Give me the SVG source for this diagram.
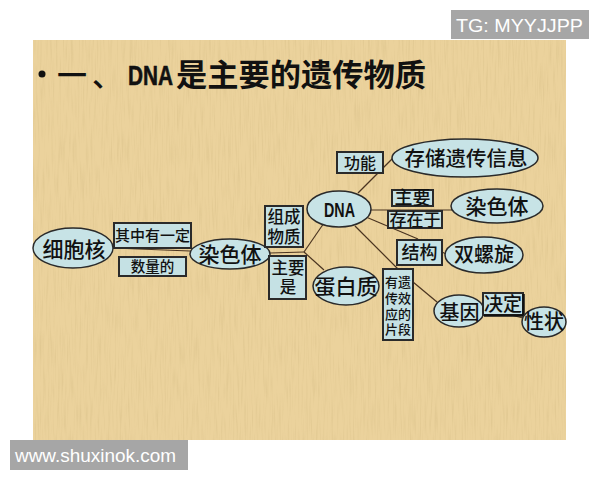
<svg xmlns="http://www.w3.org/2000/svg" width="600" height="480" viewBox="0 0 600 480">
<defs>
<style>
.cjk{font-family:"Noto Sans CJK SC","Noto Sans",sans-serif;fill:#111;text-anchor:middle;font-weight:500}
.ell{fill:#C7E3E6;stroke:#2a2a2a;stroke-width:1.5}
.box{fill:#C5E1E4;stroke:#2a2a2a;stroke-width:2}
.con{stroke:#4a3420;stroke-width:1.2;fill:none}
.wm{fill:#A6A6A6}
.wmt{font-family:"Liberation Sans",Arial,sans-serif;fill:#fff;font-size:18px}
</style>
<filter id="tex" x="0" y="0" width="1" height="1">
<feTurbulence type="fractalNoise" baseFrequency="0.6 0.03" numOctaves="2" seed="3" result="n"/>
<feColorMatrix in="n" type="matrix" values="0 0 0 0 0.6  0 0 0 0 0.45  0 0 0 0 0.2  0 0 0 -1.4 0.75"/>
<feComposite in2="SourceGraphic" operator="in"/>
</filter>
</defs>
<rect width="600" height="480" fill="#fff"/>
<rect x="33" y="40" width="533" height="400" fill="#EBD29C"/>
<rect x="33" y="40" width="533" height="400" fill="#EBD29C" filter="url(#tex)" opacity="0.5"/>

<g id="title">
<circle cx="42" cy="74" r="3.5" fill="#111"/>
<text x="72" y="86" class="cjk" font-size="30" font-weight="bold">一</text>
<text x="107" y="86" class="cjk" font-size="30" font-weight="bold">、</text>
<text x="128" y="85" font-family="Liberation Sans,Arial,sans-serif" font-weight="bold" font-size="28" textLength="45" lengthAdjust="spacingAndGlyphs" fill="#111" stroke="#111" stroke-width="0.6">DNA</text>
<text x="176" y="86" class="cjk" font-size="31" font-weight="bold" style="text-anchor:start;font-weight:bold" textLength="250" lengthAdjust="spacingAndGlyphs">是主要的遗传物质</text>
</g>

<g id="connectors">
<line class="con" x1="113" y1="248" x2="190" y2="251"/>
<line class="con" x1="270" y1="253" x2="304" y2="252"/>
<line class="con" x1="304" y1="252" x2="324" y2="223"/>
<line class="con" x1="304" y1="252" x2="324" y2="270"/>
<line class="con" x1="358" y1="193" x2="393" y2="158"/>
<line class="con" x1="371" y1="210" x2="452" y2="210"/>
<line class="con" x1="366" y1="217" x2="418" y2="239"/>
<line class="con" x1="355" y1="226" x2="398" y2="269"/>
<line class="con" x1="413" y1="282" x2="437" y2="302"/>
<line class="con" x1="442" y1="252" x2="446" y2="254"/>
<line class="con" x1="483" y1="308" x2="523" y2="318"/>
</g>

<g id="n-xibaohe">
<ellipse class="ell" cx="73" cy="248" rx="40" ry="20"/>
<text x="74" y="257" class="cjk" font-size="21">细胞核</text>
</g>
<g id="l-qizhong">
<rect class="box" x="114" y="223" width="77" height="25"/>
<text x="152.5" y="241" class="cjk" font-size="15">其中有一定</text>
</g>
<g id="l-shuliang">
<rect class="box" x="119" y="257" width="67" height="19"/>
<text x="152.5" y="272" class="cjk" font-size="14.5">数量的</text>
</g>
<g id="n-ransheti1">
<ellipse class="ell" cx="230" cy="254" rx="40" ry="15"/>
<text x="230" y="262" class="cjk" font-size="21">染色体</text>
</g>
<g id="l-zucheng">
<rect class="box" x="265" y="206" width="38" height="41"/>
<text x="284" y="223" class="cjk" font-size="16.5">组成</text>
<text x="284" y="243" class="cjk" font-size="16.5">物质</text>
</g>
<g id="l-zhuyaoshi">
<rect class="box" x="269" y="256" width="37" height="43"/>
<text x="288" y="274" class="cjk" font-size="16.5">主要</text>
<text x="288" y="293" class="cjk" font-size="16.5">是</text>
</g>
<g id="n-dna">
<ellipse class="ell" cx="339" cy="209" rx="32" ry="18"/>
<text x="324" y="217" font-family="Liberation Sans,Arial,sans-serif" font-weight="bold" font-size="20" textLength="31" lengthAdjust="spacingAndGlyphs" fill="#111">DNA</text>
</g>
<g id="n-danbaizhi">
<ellipse class="ell" cx="346" cy="286" rx="33" ry="19"/>
<text x="346" y="294" class="cjk" font-size="21">蛋白质</text>
</g>
<g id="l-gongneng">
<rect class="box" x="337" y="152" width="46" height="21"/>
<text x="360" y="169" class="cjk" font-size="16">功能</text>
</g>
<g id="n-cunchu">
<ellipse class="ell" cx="465" cy="158" rx="73" ry="19"/>
<text x="466" y="166" class="cjk" font-size="20.5">存储遗传信息</text>
</g>
<g id="l-zhuyao">
<rect class="box" x="392" y="190" width="41" height="16"/>
<text x="412.5" y="204" class="cjk" font-size="18">主要</text>
</g>
<g id="l-cunzaiyu">
<rect class="box" x="388" y="211" width="54" height="17"/>
<text x="415" y="226" class="cjk" font-size="17">存在于</text>
</g>
<g id="n-ransheti2">
<ellipse class="ell" cx="497" cy="206" rx="46" ry="17"/>
<text x="497" y="213.5" class="cjk" font-size="21">染色体</text>
</g>
<g id="l-jiegou">
<rect class="box" x="397" y="240" width="45" height="25"/>
<text x="419.5" y="259" class="cjk" font-size="18">结构</text>
</g>
<g id="n-shuangluoxuan">
<ellipse class="ell" cx="484" cy="255" rx="39" ry="18"/>
<text x="484" y="262" class="cjk" font-size="20">双螺旋</text>
</g>
<g id="l-youyichuan">
<rect class="box" x="383" y="269" width="30" height="71"/>
<text x="398" y="287" class="cjk" font-size="13">有遗</text>
<text x="398" y="303" class="cjk" font-size="13">传效</text>
<text x="398" y="319" class="cjk" font-size="13">应的</text>
<text x="398" y="334" class="cjk" font-size="13">片段</text>
</g>
<g id="n-jiyin">
<ellipse class="ell" cx="459" cy="311" rx="25" ry="16"/>
<text x="459.5" y="320" class="cjk" font-size="20">基因</text>
</g>
<g id="l-jueding">
<rect class="box" x="483" y="293" width="40" height="22"/>
<polyline points="484,315.5 523.5,315.5 523.5,294" fill="none" stroke="#111" stroke-width="2.5"/>
<text x="503" y="311" class="cjk" font-size="19">决定</text>
</g>
<g id="n-xingzhuang">
<ellipse class="ell" cx="544" cy="322" rx="22" ry="15"/>
<text x="544" y="329" class="cjk" font-size="20">性状</text>
</g>

<g id="watermarks">
<rect class="wm" x="451" y="10" width="138" height="29"/>
<text class="wmt" x="456" y="32" textLength="127" lengthAdjust="spacingAndGlyphs">TG: MYYJJPP</text>
<rect class="wm" x="10" y="440" width="178" height="30"/>
<text class="wmt" x="15" y="462" textLength="161" lengthAdjust="spacingAndGlyphs">www.shuxinok.com</text>
</g>
</svg>
